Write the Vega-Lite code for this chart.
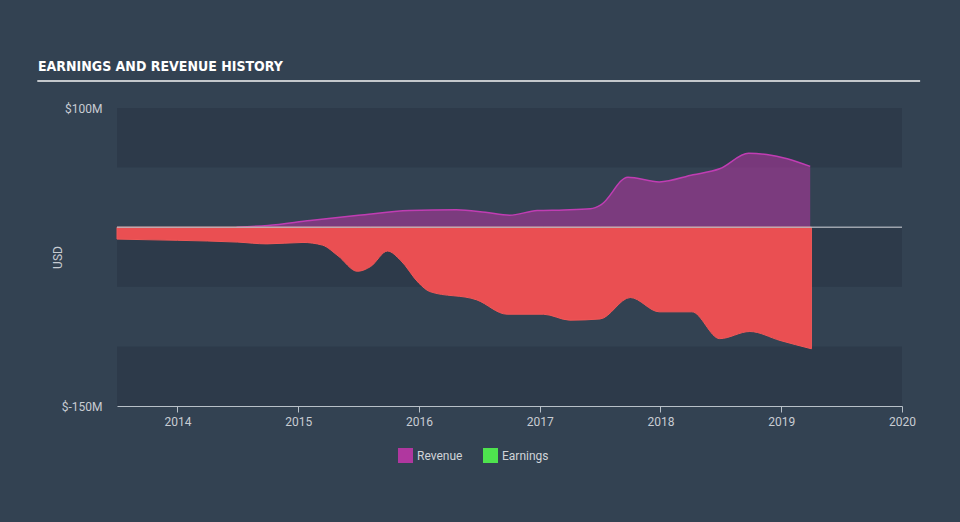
{
  "$schema": "https://vega.github.io/schema/vega-lite/v6.json",
  "width": 785,
  "height": 298,
  "autosize": "none",
  "padding": {"left": 117, "top": 108, "right": 58, "bottom": 116},
  "background": "#334252",
  "config": {
    "view": {"stroke": null},
    "font": "Roboto",
    "axis": {"labelFont": "Roboto", "titleFont": "Roboto"}
  },
  "title": {
    "text": "EARNINGS AND REVENUE HISTORY",
    "anchor": "start",
    "frame": "group",
    "font": "DejaVu Sans Condensed, Liberation Sans Narrow, Roboto",
    "fontWeight": "bold",
    "fontSize": 14,
    "color": "#ffffff",
    "dx": -79,
    "offset": 6
  },
  "datasets": {
    "bands": [
      {"lo": 50, "hi": 100},
      {"lo": -50, "hi": 0},
      {"lo": -150, "hi": -100}
    ],
    "revenue": [
      {"date": 2014.49, "value": 0, "series": "Revenue"},
      {"date": 2014.75, "value": 1.5, "series": "Revenue"},
      {"date": 2015.1, "value": 5.7, "series": "Revenue"},
      {"date": 2015.5, "value": 10, "series": "Revenue"},
      {"date": 2015.92, "value": 14, "series": "Revenue"},
      {"date": 2016.31, "value": 14.7, "series": "Revenue"},
      {"date": 2016.55, "value": 12.5, "series": "Revenue"},
      {"date": 2016.75, "value": 10, "series": "Revenue"},
      {"date": 2016.98, "value": 14, "series": "Revenue"},
      {"date": 2017.2, "value": 14.5, "series": "Revenue"},
      {"date": 2017.42, "value": 15.5, "series": "Revenue"},
      {"date": 2017.51, "value": 19, "series": "Revenue"},
      {"date": 2017.73, "value": 42, "series": "Revenue"},
      {"date": 2017.99, "value": 38, "series": "Revenue"},
      {"date": 2018.27, "value": 44, "series": "Revenue"},
      {"date": 2018.49, "value": 49, "series": "Revenue"},
      {"date": 2018.73, "value": 62, "series": "Revenue"},
      {"date": 2018.88, "value": 61, "series": "Revenue"},
      {"date": 2019.05, "value": 57.5, "series": "Revenue"},
      {"date": 2019.24, "value": 51, "series": "Revenue"}
    ],
    "earnings": [
      {"date": 2013.5, "value": -10},
      {"date": 2014.0, "value": -11},
      {"date": 2014.5, "value": -12.5},
      {"date": 2014.74, "value": -14},
      {"date": 2015.04, "value": -12.8},
      {"date": 2015.2, "value": -15},
      {"date": 2015.33, "value": -24},
      {"date": 2015.49, "value": -37},
      {"date": 2015.6, "value": -33},
      {"date": 2015.74, "value": -20},
      {"date": 2015.85, "value": -28},
      {"date": 2016.0, "value": -47},
      {"date": 2016.09, "value": -54},
      {"date": 2016.48, "value": -61},
      {"date": 2016.73, "value": -73},
      {"date": 2017.03, "value": -73},
      {"date": 2017.25, "value": -78},
      {"date": 2017.5, "value": -77},
      {"date": 2017.75, "value": -59},
      {"date": 2017.99, "value": -71},
      {"date": 2018.26, "value": -71},
      {"date": 2018.49, "value": -93.5},
      {"date": 2018.74, "value": -87.5},
      {"date": 2018.99, "value": -95},
      {"date": 2019.25, "value": -102}
    ],
    "zero": [{"start": 2013.5, "end": 2020, "value": 0}],
    "titleline": [{"start": 2012.84, "end": 2020.15, "value": 122.6}]
  },
  "layer": [
    {
      "data": {"name": "bands"},
      "mark": {"type": "rect", "color": "#2d3a4a"},
      "encoding": {
        "y": {"field": "hi", "type": "quantitative", "scale": {"domain": [-150, 100]}},
        "y2": {"field": "lo"}
      }
    },
    {
      "data": {"name": "revenue"},
      "mark": {"type": "area", "interpolate": "monotone", "fillOpacity": 0.58},
      "encoding": {
        "x": {
          "field": "date", "type": "quantitative",
          "scale": {"domain": [2013.5, 2020], "nice": false, "zero": false},
          "axis": {
            "title": null,
            "values": [2014, 2015, 2016, 2017, 2018, 2019, 2020],
            "format": "d",
            "grid": false,
            "domainColor": "#b8c0c8",
            "tickColor": "#b8c0c8",
            "tickSize": 6,
            "labelColor": "#c8ccd2",
            "labelFontSize": 12,
            "labelPadding": 4,
            "labelFlush": false
          }
        },
        "y": {
          "field": "value", "type": "quantitative",
          "scale": {"domain": [-150, 100], "nice": false},
          "axis": {
            "title": "USD",
            "titleColor": "#c8ccd2",
            "titleFontSize": 12,
            "titleFontWeight": "normal",
            "titlePadding": -3,
            "values": [100, -150],
            "labelExpr": "'$' + datum.value + 'M'",
            "grid": false,
            "domain": false,
            "ticks": false,
            "labelColor": "#c8ccd2",
            "labelFontSize": 12,
            "labelPadding": 15
          }
        },
        "fill": {
          "field": "series", "type": "nominal",
          "scale": {"domain": ["Revenue", "Earnings"], "range": ["#b0379f", "#4ee34e"]},
          "legend": {
            "title": null,
            "orient": "none",
            "legendX": 281,
            "legendY": 340,
            "direction": "horizontal",
            "symbolType": "square",
            "symbolSize": 225,
            "symbolOpacity": 1,
            "symbolFillOpacity": 1,
            "symbolStrokeWidth": 0,
            "labelColor": "#d0d4d8",
            "labelFontSize": 12,
            "columnPadding": 20
          }
        }
      }
    },
    {
      "data": {"name": "revenue"},
      "mark": {"type": "line", "interpolate": "monotone", "color": "#c03db3", "strokeWidth": 1.5},
      "encoding": {
        "x": {"field": "date", "type": "quantitative"},
        "y": {"field": "value", "type": "quantitative"}
      }
    },
    {
      "data": {"name": "earnings"},
      "mark": {"type": "area", "interpolate": "monotone", "color": "#ea4f52", "stroke": "#f05858", "strokeWidth": 1},
      "encoding": {
        "x": {"field": "date", "type": "quantitative"},
        "y": {"field": "value", "type": "quantitative"}
      }
    },
    {
      "data": {"name": "zero"},
      "mark": {"type": "rule", "color": "#b9bec4", "strokeWidth": 1.5, "opacity": 0.8},
      "encoding": {
        "x": {"field": "start", "type": "quantitative"},
        "x2": {"field": "end"},
        "y": {"field": "value", "type": "quantitative"}
      }
    },
    {
      "data": {"name": "titleline"},
      "mark": {"type": "rule", "color": "#c4c8cc", "strokeWidth": 2, "clip": false},
      "encoding": {
        "x": {"field": "start", "type": "quantitative"},
        "x2": {"field": "end"},
        "y": {"field": "value", "type": "quantitative"}
      }
    }
  ]
}
